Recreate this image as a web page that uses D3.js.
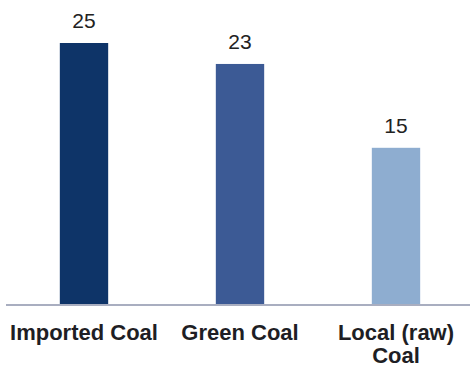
<!DOCTYPE html>
<html>
<head>
<meta charset="utf-8">
<script src="https://cdn.jsdelivr.net/npm/d3@7"></script>
<style>
  html, body { margin: 0; padding: 0; background: #ffffff; }
  svg { display: block; }
</style>
</head>
<body>
<script>
// Coal types and their values
const categories = ["Imported Coal", "Green Coal", "Local (raw) Coal"];
const categoryLines = [["Imported Coal"], ["Green Coal"], ["Local (raw)", "Coal"]];
const values = [25, 23, 15];
const barColors = ["#0e3468", "#3c5a95", "#8eadd0"];

const width = 470, height = 368;
const baseY = 305, topY = 43;

const svg = d3.select("body").append("svg")
  .attr("width", width)
  .attr("height", height);

const x = d3.scaleBand()
  .domain(categories)
  .range([6, 474])
  .paddingInner(0.69)
  .paddingOuter(0.345);

const y = d3.scaleLinear()
  .domain([0, 25])
  .range([baseY, topY]);

// Bars
svg.append("g").selectAll("rect")
  .data(categories)
  .join("rect")
  .attr("x", d => x(d))
  .attr("y", (d, i) => y(values[i]))
  .attr("width", x.bandwidth())
  .attr("height", (d, i) => y(0) - y(values[i]))
  .attr("fill", (d, i) => barColors[i]);

// Value labels above bars
svg.append("g").selectAll("text")
  .data(categories)
  .join("text")
  .attr("x", d => x(d) + x.bandwidth() / 2)
  .attr("y", (d, i) => y(values[i]) - 15)
  .attr("text-anchor", "middle")
  .attr("font-family", "'Liberation Sans', Arial, sans-serif")
  .attr("font-size", 21)
  .attr("fill", "#222222")
  .text((d, i) => values[i]);

// Baseline
svg.append("line")
  .attr("x1", 6).attr("x2", 470)
  .attr("y1", baseY).attr("y2", baseY)
  .attr("stroke", "#a9aec0")
  .attr("stroke-width", 2);

// Category labels
const labels = svg.append("g").selectAll("text")
  .data(categories)
  .join("text")
  .attr("x", d => x(d) + x.bandwidth() / 2)
  .attr("y", 340)
  .attr("text-anchor", "middle")
  .attr("font-family", "'Liberation Sans', Arial, sans-serif")
  .attr("font-size", 22)
  .attr("font-weight", "bold")
  .attr("fill", "#1e1e24");

labels.each(function(d, i) {
  d3.select(this).selectAll("tspan")
    .data(categoryLines[i])
    .join("tspan")
    .attr("x", x(d) + x.bandwidth() / 2)
    .attr("dy", (t, j) => j === 0 ? 0 : 23)
    .text(t => t);
});
</script>
</body>
</html>
